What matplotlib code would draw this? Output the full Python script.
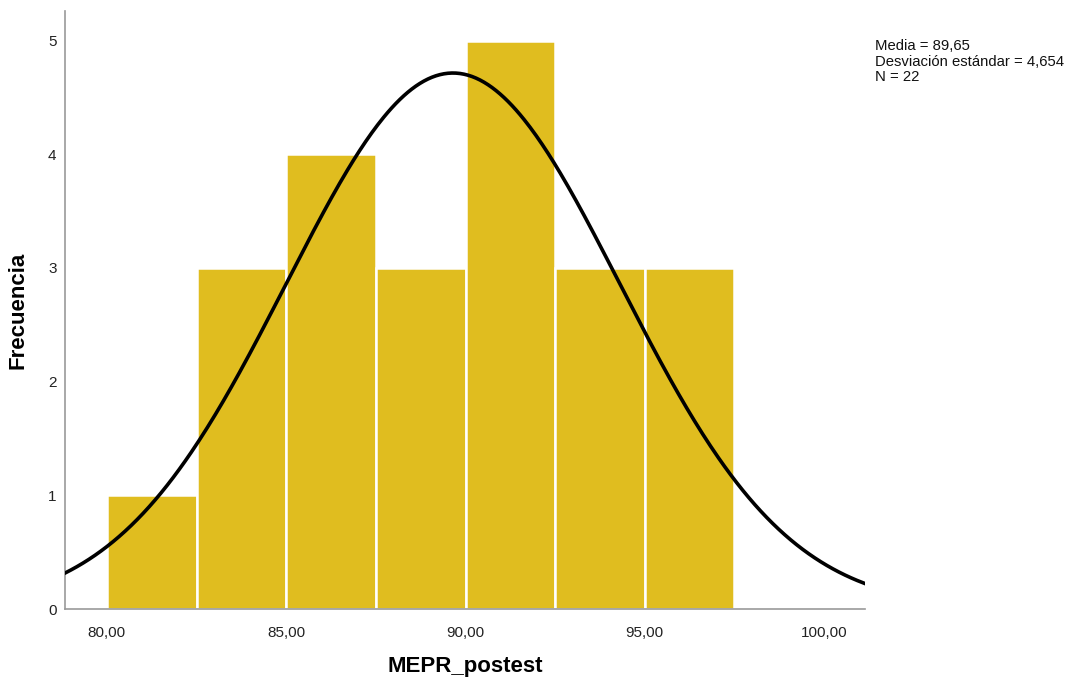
import numpy as np
import matplotlib
matplotlib.use("Agg")
import matplotlib.pyplot as plt

plt.rcParams['font.family'] = ['Liberation Sans', 'DejaVu Sans']

bin_edges = [80.0, 82.5, 85.0, 87.5, 90.0, 92.5, 95.0, 97.5]
counts = [1, 3, 4, 3, 5, 3, 3]
mean = 89.65
std = 4.654
n = 22
xticks = [80, 85, 90, 95, 100]
xtick_labels = ["80,00", "85,00", "90,00", "95,00", "100,00"]
yticks = [0, 1, 2, 3, 4, 5]

fig = plt.figure(figsize=(10.7, 6.8), dpi=100)
ax = fig.add_axes([0.0607, 0.1044, 0.7477, 0.8794])

widths = np.diff(bin_edges)
ax.bar(bin_edges[:-1], counts, width=widths, align='edge', color='#E0BD1F',
       edgecolor='white', linewidth=1.8, zorder=2)

xlo, xhi = 78.83, 101.14
xs = np.linspace(xlo, xhi, 400)
bw = widths[0]
ys = n * bw * np.exp(-0.5 * ((xs - mean) / std) ** 2) / (std * np.sqrt(2 * np.pi))
ax.plot(xs, ys, color='black', linewidth=2.6, zorder=3)

ax.set_xlim(xlo, xhi)
ax.set_ylim(0, 5.26)
ax.set_xticks(xticks)
ax.set_xticklabels(xtick_labels)
ax.set_yticks(yticks)
ax.tick_params(length=0, labelsize=11, colors='#222222', pad=6)
ax.tick_params(axis='x', pad=12)
for s in ['top', 'right']:
    ax.spines[s].set_visible(False)
for s in ['left', 'bottom']:
    ax.spines[s].set_color('#999999')
    ax.spines[s].set_linewidth(1.2)

ax.set_xlabel('MEPR_postest', fontsize=16, fontweight='bold', labelpad=12)
ax.set_ylabel('Frecuencia', fontsize=16, fontweight='bold', labelpad=14)

fig.text(875/1070, 1 - 39/680,
         'Media = 89,65\nDesviación estándar = 4,654\nN = 22',
         fontsize=10.7, va='top', ha='left', linespacing=1.15, color='#111111')

fig.savefig('out.png', dpi=100)
